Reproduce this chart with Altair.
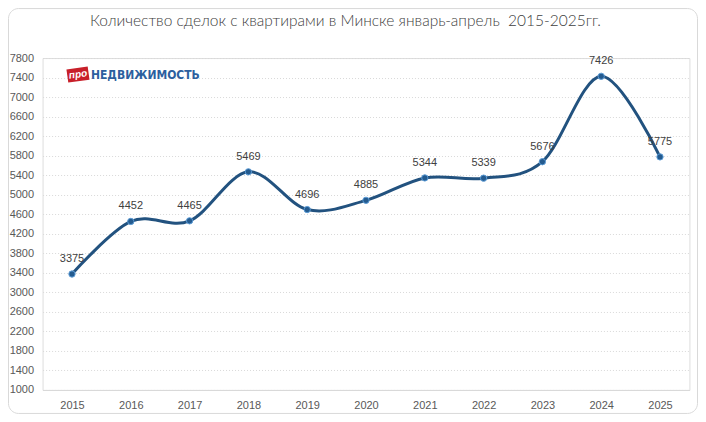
import altair as alt
import pandas as pd

years = ["2015", "2016", "2017", "2018", "2019", "2020", "2021", "2022", "2023", "2024", "2025"]
deals = [3375, 4452, 4465, 5469, 4696, 4885, 5344, 5339, 5676, 7426, 5775]
y_ticks = list(range(1000, 7801, 400))
title_text = ["Количество сделок с квартирами в Минске январь-апрель\u00a0 2015-2025гг."]
logo_small = ["про"]
logo_big = ["НЕДВИЖИМОСТЬ"]

df = pd.DataFrame({"year": years, "deals": deals})

W, H = 647, 332
PL, PT, PR, PB = 34.6, 50, 8.6, 24

x = alt.X("year:O", title=None, sort=years,
          scale=alt.Scale(type="point", padding=0.5),
          axis=alt.Axis(labelAngle=0, labelFont="Liberation Sans", labelFontSize=11,
                        labelColor="#595959", ticks=False, domainColor="#d9d9d9",
                        labelPadding=10, grid=False))
y = alt.Y("deals:Q", title=None,
          scale=alt.Scale(domain=[1000, 7800], nice=False, zero=False),
          axis=alt.Axis(values=y_ticks, format="d", labelFont="Liberation Sans", labelFontSize=11,
                        labelColor="#595959", ticks=False, domain=False, labelPadding=9,
                        gridColor="#d9d9d9", gridDash=[1, 2], gridWidth=1))

base = alt.Chart(df)

line = base.mark_line(interpolate="cardinal", color="#22527f", strokeWidth=3).encode(x=x, y=y)
pts = base.mark_point(filled=True, size=40, color="#245b8f", stroke="#5b9bd5",
                      strokeWidth=1, opacity=1).encode(x=x, y=y)
labels = base.mark_text(dy=-15, font="Liberation Sans", fontSize=11, color="#404040").encode(
    x=x, y=y, text="deals:Q")

border = alt.Chart(pd.DataFrame({"a": [0]})).mark_rect(
    fill=None, stroke="#d9d9d9", strokeWidth=1, cornerRadius=10).encode(
    x=alt.value(-PL + 0.5), x2=alt.value(W + PR - 0.5),
    y=alt.value(-PT + 0.5), y2=alt.value(H + PB - 0.5))

title = alt.Chart(pd.DataFrame({"t": title_text})).mark_text(
    font="Lato, Liberation Sans", fontSize=15.5, fontWeight=300, color="#404040",
    align="center", baseline="middle").encode(
    x=alt.value(303), y=alt.value(-37), text="t:N")

logo_box = alt.Chart(pd.DataFrame({"t": logo_small})).mark_point(
    shape="M -1 -0.62 L 1 -0.62 L 1 0.62 L -1 0.62 Z", filled=True, color="#c8202a",
    size=460, angle=352, opacity=1).encode(x=alt.value(35.4), y=alt.value(16.5))
logo_txt = alt.Chart(pd.DataFrame({"t": logo_small})).mark_text(
    font="Liberation Sans", fontSize=10, fontWeight="bold", fontStyle="italic",
    color="white", angle=352, baseline="middle").encode(
    x=alt.value(35.4), y=alt.value(16.5), text="t:N")
logo_name = alt.Chart(pd.DataFrame({"t": logo_big})).mark_text(
    font="DejaVu Sans Condensed, Liberation Sans", fontSize=12, fontWeight="bold",
    color="#2c5f9e", align="left", baseline="middle").encode(
    x=alt.value(48.4), y=alt.value(16.5), text="t:N")

chart = alt.layer(border, title, line, pts, labels, logo_box, logo_txt, logo_name).properties(
    width=W, height=H,
    autosize=alt.AutoSizeParams(type="none"),
    padding={"left": PL, "top": PT, "right": PR, "bottom": PB},
).configure_view(stroke=None).configure(background="white")

chart.save("out.html", embed_options={"renderer": "svg", "actions": False})
